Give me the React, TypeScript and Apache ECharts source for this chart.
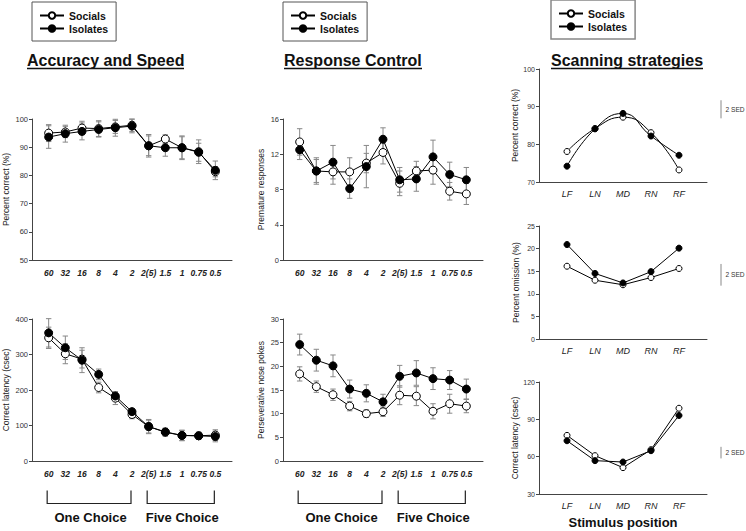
import React, { useEffect, useRef } from "react";
import * as echarts from "echarts";

// ---------- categories ----------
const delayLabels = ["60", "32", "16", "8", "4", "2", "2(5)", "1.5", "1", "0.75", "0.5"];
const positionLabels = ["LF", "LN", "MD", "RN", "RF"];
const choiceGroups = [
  { label: "One Choice", from: 1, to: 6 },
  { label: "Five Choice", from: 7, to: 11 },
];

// ---------- Accuracy and Speed ----------
const accSocials = [95.0, 95.4, 96.8, 96.6, 97.2, 97.8, 90.5, 92.9, 89.8, 88.4, 81.3];
const accSocialsSE = [3, 2, 2.4, 2.8, 2.3, 2.2, 3.5, 1.5, 3.9, 4.2, 1.8];
const accIsolates = [93.6, 94.8, 95.6, 96.3, 96.9, 97.5, 90.5, 89.8, 89.8, 88.2, 81.8];
const accIsolatesSE = [4, 3, 3, 2.7, 3, 2.4, 4, 3, 4.2, 3.2, 3.3];

const latSocials = [347, 302, 287, 207, 177, 131, 97, 81, 72, 71, 73];
const latSocialsSE = [30, 28, 25, 15, 18, 12, 20, 11, 14, 9, 15];
const latIsolates = [361, 319, 284, 244, 183, 139, 97, 82, 72, 71, 69];
const latIsolatesSE = [40, 33, 35, 15, 12, 8, 18, 10, 15, 10, 15];

// ---------- Response Control ----------
const preSocials = [13.4, 10.1, 10.0, 10.0, 11.0, 12.2, 8.7, 10.1, 10.2, 7.8, 7.5];
const preSocialsSE = [1.5, 1.3, 1.4, 1.6, 1.1, 1.3, 1.4, 1.1, 1.6, 1.0, 1.2];
const preIsolates = [12.5, 10.1, 11.1, 8.1, 10.6, 13.7, 9.1, 9.2, 11.7, 9.7, 9.1];
const preIsolatesSE = [1.1, 1.5, 1.9, 1.1, 2.4, 1.3, 1.4, 1.4, 1.9, 1.4, 1.4];

const perSocials = [18.4, 15.7, 14.0, 11.6, 10.0, 10.4, 13.9, 13.7, 10.5, 12.1, 11.6];
const perSocialsSE = [1.5, 1.2, 1.2, 1.0, 0.8, 1.0, 2.0, 2.0, 1.6, 2.0, 1.4];
const perIsolates = [24.6, 21.3, 20.1, 15.2, 14.3, 12.5, 17.9, 18.6, 17.4, 17.1, 15.2];
const perIsolatesSE = [2.2, 2.3, 2.3, 1.9, 1.8, 1.6, 2.3, 2.6, 2.3, 2.0, 2.1];

// ---------- Scanning strategies ----------
const scanCorrectSocials = [78.1, 84.2, 87.2, 83.1, 73.2];
const scanCorrectIsolates = [74.2, 84.1, 88.2, 82.2, 77.1];
const scanOmissionSocials = [16.1, 13.0, 12.0, 13.6, 15.6];
const scanOmissionIsolates = [20.9, 14.5, 12.4, 14.9, 20.1];
const scanLatencySocials = [77.1, 60.8, 51.2, 65.6, 98.9];
const scanLatencyIsolates = [72.8, 56.8, 55.7, 64.8, 93.1];

// 2 SED reference bars (low, high) in data units
const sedCorrect = [86.9, 91.7];
const sedOmission = [11.8, 16.6];
const sedLatency = [58.6, 67.9];

const FONT = "Arial, 'Liberation Sans', Helvetica, sans-serif";
const AXIS_COLOR = "#444";
const delayCats = ["", ...delayLabels, ""];
const posCats = ["", ...positionLabels, ""];

function errorSeries(idx: number, vals: number[], se: number[]) {
  return {
    type: "custom",
    name: "err" + idx,
    xAxisIndex: idx,
    yAxisIndex: idx,
    z: 1,
    silent: true,
    data: vals.map((v, i) => [i + 1, v - se[i], v + se[i]]),
    encode: { x: 0, y: [1, 2] },
    renderItem: (params: any, api: any) => {
      const x = api.value(0);
      const lo = api.coord([x, api.value(1)]);
      const hi = api.coord([x, api.value(2)]);
      const cw = 2.7;
      const st = { stroke: "#888", lineWidth: 1 };
      return {
        type: "group",
        children: [
          { type: "line", shape: { x1: lo[0], y1: lo[1], x2: hi[0], y2: hi[1] }, style: st },
          { type: "line", shape: { x1: lo[0] - cw, y1: lo[1], x2: lo[0] + cw, y2: lo[1] }, style: st },
          { type: "line", shape: { x1: hi[0] - cw, y1: hi[1], x2: hi[0] + cw, y2: hi[1] }, style: st },
        ],
      };
    },
  };
}

function lineSeries(idx: number, name: string, vals: number[], size: number, smooth = false) {
  const open = name === "Socials";
  return {
    type: "line",
    name,
    xAxisIndex: idx,
    yAxisIndex: idx,
    z: open ? 2 : 3,
    smooth,
    data: vals.map((v, i) => [i + 1, v]),
    symbol: "circle",
    symbolSize: size,
    showAllSymbol: true,
    itemStyle: open
      ? { color: "#fff", borderColor: "#000", borderWidth: 1 }
      : { color: "#000", borderColor: "#000", borderWidth: 1 },
    lineStyle: { color: "#000", width: 1 },
  };
}

function bracketSeries(idx: number) {
  return {
    type: "custom",
    name: "bracket" + idx,
    xAxisIndex: idx,
    yAxisIndex: idx,
    clip: false,
    silent: true,
    data: choiceGroups.map((g) => [g.from, g.to, 0]),
    encode: { x: [0, 1], y: 2 },
    renderItem: (params: any, api: any) => {
      const cs = params.coordSys;
      const bottom = cs.y + cs.height;
      const x1 = api.coord([api.value(0), 0])[0] - 1.5;
      const x2 = api.coord([api.value(1), 0])[0] - 1;
      const yTop = bottom + 29.5;
      const yBot = bottom + 42.5;
      return {
        type: "group",
        children: [
          {
            type: "polyline",
            shape: { points: [[x1, yTop], [x1, yBot], [x2, yBot], [x2, yTop]] },
            style: { stroke: "#222", lineWidth: 1.2, fill: null },
          },
          {
            type: "text",
            style: {
              text: choiceGroups[params.dataIndex].label,
              x: (x1 + x2) / 2 + 1.5,
              y: bottom + 56,
              align: "center",
              verticalAlign: "middle",
              fontSize: 13,
              fontWeight: "bold",
              fontFamily: FONT,
              fill: "#111",
            },
          },
        ],
      };
    },
  };
}

function sedSeries(idx: number, range: number[]) {
  return {
    type: "custom",
    name: "sed" + idx,
    xAxisIndex: idx,
    yAxisIndex: idx,
    clip: false,
    silent: true,
    data: [[0, range[0], range[1]]],
    encode: { x: 0, y: [1, 2] },
    renderItem: (params: any, api: any) => {
      const cs = params.coordSys;
      const xl = cs.x + cs.width + 14;
      const lo = api.coord([0, api.value(1)])[1];
      const hi = api.coord([0, api.value(2)])[1];
      return {
        type: "group",
        children: [
          { type: "line", shape: { x1: xl, y1: lo, x2: xl, y2: hi }, style: { stroke: "#888", lineWidth: 1 } },
          {
            type: "text",
            style: {
              text: "2 SED",
              x: xl + 4.5,
              y: (lo + hi) / 2,
              align: "left",
              verticalAlign: "middle",
              fontSize: 6.6,
              fontFamily: FONT,
              fill: "#333",
            },
          },
        ],
      };
    },
  };
}

function xAxisDelay(idx: number) {
  return {
    type: "category",
    gridIndex: idx,
    data: delayCats,
    boundaryGap: false,
    axisLine: { lineStyle: { color: AXIS_COLOR, width: 1 } },
    axisTick: { show: false },
    axisLabel: {
      interval: 0,
      margin: 8,
      fontSize: 8.5,
      fontStyle: "italic",
      fontWeight: "bold",
      fontFamily: FONT,
      color: "#222",
    },
    splitLine: { show: false },
  };
}

function xAxisPos(idx: number, name?: string) {
  return {
    type: "category",
    gridIndex: idx,
    data: posCats,
    boundaryGap: false,
    name: name || "",
    nameLocation: "middle",
    nameGap: 22,
    nameTextStyle: { fontSize: 13, fontWeight: "bold", fontFamily: FONT, color: "#111" },
    axisLine: { lineStyle: { color: AXIS_COLOR, width: 1 } },
    axisTick: { show: false },
    axisLabel: {
      interval: 0,
      margin: 7,
      fontSize: 9,
      fontStyle: "italic",
      fontFamily: FONT,
      color: "#222",
    },
    splitLine: { show: false },
  };
}

function yAxis(idx: number, min: number, max: number, interval: number, name: string, nameGap: number, fs: number) {
  return {
    type: "value",
    gridIndex: idx,
    min,
    max,
    interval,
    name,
    nameLocation: "middle",
    nameGap,
    nameRotate: 90,
    nameTextStyle: { fontSize: 8.5, fontFamily: FONT, color: "#222" },
    axisLine: { show: true, lineStyle: { color: AXIS_COLOR, width: 1 } },
    axisTick: { show: true, length: 3, lineStyle: { color: AXIS_COLOR } },
    axisLabel: { fontSize: fs, margin: 4, fontFamily: FONT, color: "#333" },
    splitLine: { show: false },
  };
}

function legendAt(left: number, top: number, bw: number, bc: string) {
  return {
    left,
    top,
    orient: "vertical",
    data: ["Socials", "Isolates"],
    selectedMode: false,
    borderColor: bc,
    borderWidth: bw,
    padding: [8, 8, 7, 7],
    itemWidth: 24,
    itemHeight: 8,
    itemGap: 2,
    textStyle: { fontSize: 10.5, fontWeight: "bold", fontFamily: FONT, color: "#111" },
  };
}

export default function App() {
  const ref = useRef<HTMLDivElement>(null);
  useEffect(() => {
    if (!ref.current) return;
    const chart = echarts.init(ref.current, null, { renderer: "svg" });
    const titleStyle = { fontSize: 16, fontWeight: "bold", fontFamily: FONT, color: "#111" };
    const grids = [
      { left: 32, top: 119, width: 200, height: 141 },
      { left: 32, top: 319, width: 200, height: 142 },
      { left: 283, top: 119, width: 200, height: 141 },
      { left: 283, top: 319, width: 200, height: 142 },
      { left: 539, top: 69, width: 168, height: 113 },
      { left: 539, top: 226, width: 168, height: 113 },
      { left: 539, top: 382, width: 168, height: 112 },
    ].map((g) => ({ ...g, containLabel: false, outerBoundsMode: "none" }));

    const option: any = {
      animation: false,
      backgroundColor: "#fff",
      title: [
        { text: "Accuracy and Speed", left: 27, top: 52, padding: 0, textStyle: titleStyle },
        { text: "Response Control", left: 284, top: 52, padding: 0, textStyle: titleStyle },
        { text: "Scanning strategies", left: 551, top: 52, padding: 0, textStyle: titleStyle },
      ],
      legend: [
        legendAt(32, 2, 1, "#555"),
        legendAt(283, 2, 1, "#555"),
        legendAt(551, 0, 1.5, "#888"),
      ],
      graphic: [
        { type: "line", shape: { x1: 27, y1: 68.5, x2: 184, y2: 68.5 }, style: { stroke: "#111", lineWidth: 1.5 } },
        { type: "line", shape: { x1: 284, y1: 68.5, x2: 422, y2: 68.5 }, style: { stroke: "#111", lineWidth: 1.5 } },
        { type: "line", shape: { x1: 551, y1: 68.5, x2: 703, y2: 68.5 }, style: { stroke: "#111", lineWidth: 1.5 } },
      ],
      grid: grids,
      xAxis: [
        xAxisDelay(0),
        xAxisDelay(1),
        xAxisDelay(2),
        xAxisDelay(3),
        xAxisPos(4),
        xAxisPos(5),
        xAxisPos(6, "Stimulus position"),
      ],
      yAxis: [
        yAxis(0, 50, 100, 10, "Percent correct (%)", 22, 7.5),
        yAxis(1, 0, 400, 100, "Correct latency (csec)", 22, 7.5),
        yAxis(2, 0, 16, 4, "Premature responses", 18, 7.5),
        yAxis(3, 0, 30, 5, "Perseverative nose pokes", 18, 7.5),
        yAxis(4, 70, 100, 10, "Percent correct (%)", 19, 7),
        yAxis(5, 0, 25, 5, "Percent omission (%)", 19, 7),
        yAxis(6, 30, 120, 30, "Correct latency (csec)", 19, 7),
      ],
      series: [
        errorSeries(0, accSocials, accSocialsSE),
        errorSeries(0, accIsolates, accIsolatesSE),
        lineSeries(0, "Socials", accSocials, 8),
        lineSeries(0, "Isolates", accIsolates, 8),

        errorSeries(1, latSocials, latSocialsSE),
        errorSeries(1, latIsolates, latIsolatesSE),
        lineSeries(1, "Socials", latSocials, 8),
        lineSeries(1, "Isolates", latIsolates, 8),
        bracketSeries(1),

        errorSeries(2, preSocials, preSocialsSE),
        errorSeries(2, preIsolates, preIsolatesSE),
        lineSeries(2, "Socials", preSocials, 8),
        lineSeries(2, "Isolates", preIsolates, 8),

        errorSeries(3, perSocials, perSocialsSE),
        errorSeries(3, perIsolates, perIsolatesSE),
        lineSeries(3, "Socials", perSocials, 8),
        lineSeries(3, "Isolates", perIsolates, 8),
        bracketSeries(3),

        lineSeries(4, "Socials", scanCorrectSocials, 6, true),
        lineSeries(4, "Isolates", scanCorrectIsolates, 6, true),
        sedSeries(4, sedCorrect),

        lineSeries(5, "Socials", scanOmissionSocials, 6),
        lineSeries(5, "Isolates", scanOmissionIsolates, 6),
        sedSeries(5, sedOmission),

        lineSeries(6, "Socials", scanLatencySocials, 6),
        lineSeries(6, "Isolates", scanLatencyIsolates, 6),
        sedSeries(6, sedLatency),
      ],
    };
    chart.setOption(option);
    return () => chart.dispose();
  }, []);
  return (
    <div
      ref={ref}
      style={{ position: "fixed", left: 0, top: 0, width: 746, height: 531, background: "#fff" }}
    />
  );
}
